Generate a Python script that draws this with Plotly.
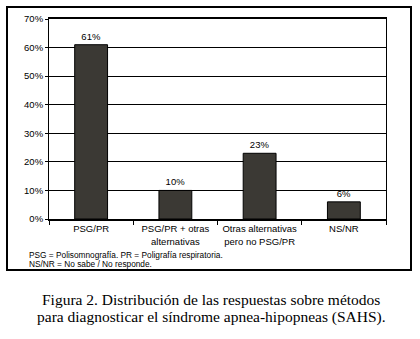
import plotly.graph_objects as go

categories = ["PSG/PR", "PSG/PR + otras<br>alternativas", "Otras alternativas<br>pero no PSG/PR", "NS/NR"]
values = [0.61, 0.10, 0.23, 0.06]
y_ticks = [0, 0.1, 0.2, 0.3, 0.4, 0.5, 0.6, 0.7]
y_tick_labels = ["0%", "10%", "20%", "30%", "40%", "50%", "60%", "70%"]
footnote_lines = ["PSG = Polisomnografía. PR = Poligrafía respiratoria.",
                  "NS/NR = No sabe / No responde."]
caption_lines = ["Figura 2. Distribución de las respuestas sobre métodos",
                 "para diagnosticar el síndrome apnea-hipopneas (SAHS)."]

W, H = 420, 339
L, R, T, B = 49, 386, 19, 219

fig = go.Figure(go.Bar(
    x=categories, y=values,
    width=0.39,
    marker=dict(color="#3b3934", line=dict(color="#000000", width=1)),
    text=[f"{round(v*100)}%" for v in values],
    textposition="outside",
    textfont=dict(family="Liberation Sans, Arial", size=9.5, color="#000000"),
    cliponaxis=False,
))

def px(x):
    return (x - L) / (R - L)

def py(y):
    return (B - y) / (B - T)

annotations = []
for text, yc in zip(footnote_lines, [255, 264]):
    annotations.append(dict(
        text=text, xref="paper", yref="paper", x=px(27), y=py(yc),
        xanchor="left", yanchor="middle", showarrow=False,
        font=dict(family="Liberation Sans, Arial", size=8.3, color="#000000")))
for text, yc in zip(caption_lines, [299, 317]):
    annotations.append(dict(
        text=text, xref="paper", yref="paper", x=px(211), y=py(yc),
        xanchor="center", yanchor="middle", showarrow=False,
        font=dict(family="Liberation Serif, Times New Roman", size=15.5, color="#000000")))

fig.update_layout(
    width=W, height=H,
    margin=dict(l=L, r=W - R, t=T, b=H - B, autoexpand=False),
    paper_bgcolor="white", plot_bgcolor="white",
    showlegend=False,
    font=dict(family="Liberation Sans, Arial", size=9.5, color="#000000"),
    xaxis=dict(
        showline=True, linecolor="#000000", linewidth=1.5, mirror=True,
        ticks="outside", tickson="boundaries", ticklen=4, tickcolor="#000000",
        tickfont=dict(size=9.5), showgrid=False, automargin=False,
    ),
    yaxis=dict(
        range=[0, 0.7], tickvals=y_ticks, ticktext=y_tick_labels,
        showline=True, linecolor="#000000", linewidth=1, mirror=True,
        ticks="outside", ticklen=3, tickcolor="#000000",
        showgrid=True, gridcolor="#000000", gridwidth=1,
        tickfont=dict(size=9.5), zeroline=False, automargin=False,
    ),
    shapes=[dict(
        type="rect", xref="paper", yref="paper",
        x0=px(7), x1=px(411), y0=py(270), y1=py(7),
        line=dict(color="#000000", width=2), fillcolor="rgba(0,0,0,0)",
        layer="above",
    )],
    annotations=annotations,
)

fig.write_html("out.html", config={"displayModeBar": False},
               post_script="document.body.style.margin='0';")
